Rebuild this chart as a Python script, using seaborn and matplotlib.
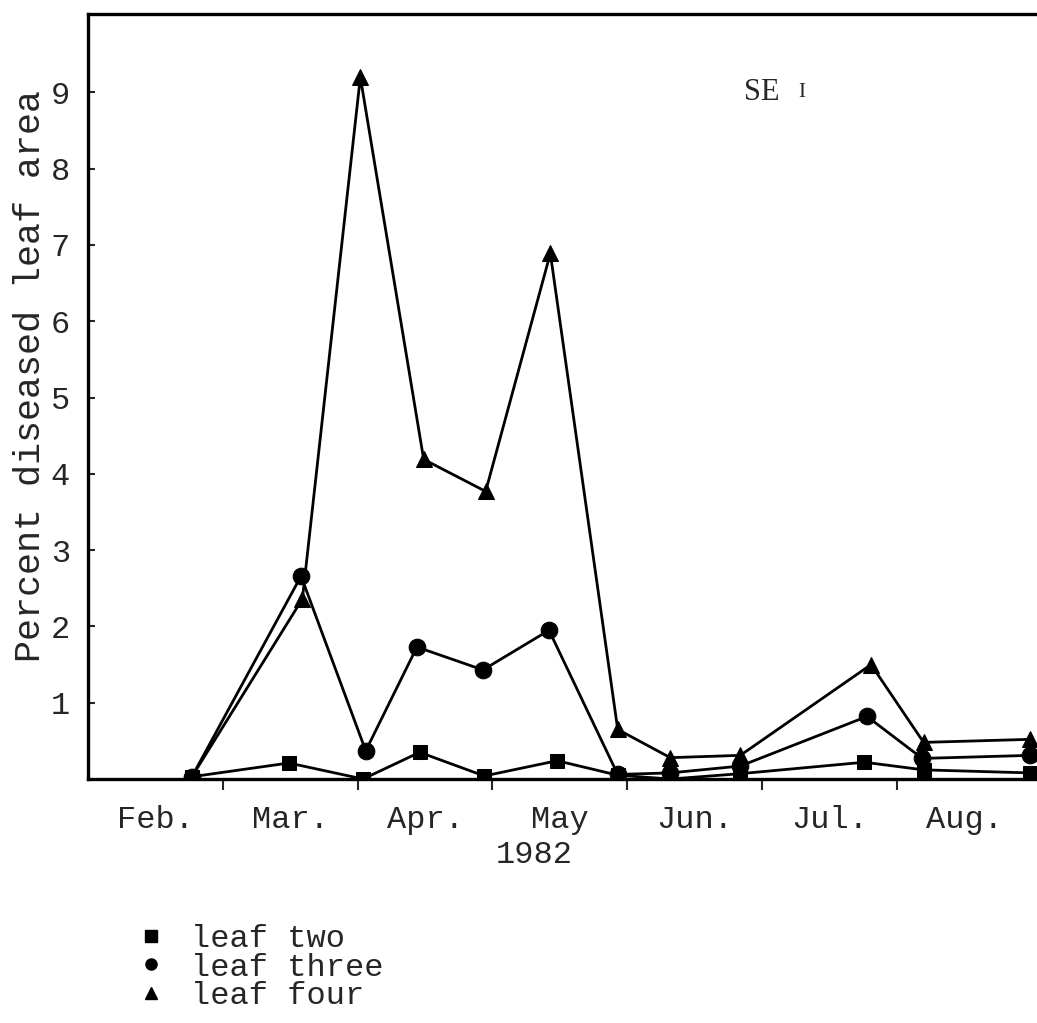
import numpy as np
import pandas as pd
import matplotlib
matplotlib.use('Agg')
import matplotlib.pyplot as plt
from matplotlib.lines import Line2D
import seaborn as sns

# x positions in months after 1 Feb 1982 (0 = Feb 1, 1 = Mar 1, ...)
x_leaf_two = [0.77, 1.49, 2.04, 2.46, 2.94, 3.48, 3.93, 4.32, 4.84, 5.76, 6.20, 6.99]
x_leaf_three = [0.77, 1.58, 2.06, 2.44, 2.93, 3.42, 3.93, 4.32, 4.84, 5.78, 6.19, 6.99]
x_leaf_four = [0.77, 1.59, 2.02, 2.49, 2.95, 3.43, 3.93, 4.32, 4.84, 5.81, 6.20, 6.99]

leaf_two = [0.03, 0.21, 0.0, 0.35, 0.04, 0.24, 0.05, 0.0, 0.07, 0.22, 0.12, 0.08]
leaf_three = [0.03, 2.66, 0.37, 1.73, 1.43, 1.95, 0.06, 0.08, 0.17, 0.82, 0.27, 0.31]
leaf_four = [0.03, 2.36, 9.2, 4.19, 3.77, 6.89, 0.65, 0.28, 0.31, 1.5, 0.48, 0.52]

series_names = ['leaf two', 'leaf three', 'leaf four']
month_labels = ['Feb.', 'Mar.', 'Apr.', 'May', 'Jun.', 'Jul.', 'Aug.']
y_ticks = [1, 2, 3, 4, 5, 6, 7, 8, 9]

frames = []
for name, xs, ys in zip(series_names, [x_leaf_two, x_leaf_three, x_leaf_four],
                        [leaf_two, leaf_three, leaf_four]):
    frames.append(pd.DataFrame({'month': xs, 'pct': ys, 'leaf': name}))
df = pd.concat(frames, ignore_index=True)

sns.set_style('white')
plt.rcParams['font.family'] = ['Liberation Mono', 'DejaVu Sans']

fig = plt.figure(figsize=(10.37, 10.23), dpi=100)
ax = fig.add_axes([0.085, 0.2385, 0.92, 0.748])

markers = {'leaf two': 's', 'leaf three': 'o', 'leaf four': '^'}
sizes = {'leaf two': 10, 'leaf three': 12, 'leaf four': 11}
for name in series_names:
    sns.lineplot(data=df[df['leaf'] == name], x='month', y='pct', ax=ax,
                 color='black', marker=markers[name], markersize=sizes[name],
                 markeredgecolor='black', linewidth=2.0, legend=False,
                 estimator=None, sort=False)

ax.set_xlim(0, 7.08)
ax.set_ylim(0, 10.03)

for side in ['left', 'top', 'bottom']:
    ax.spines[side].set_linewidth(2.4)
    ax.spines[side].set_color('black')
ax.spines['right'].set_visible(False)

ax.set_yticks(y_ticks)
ax.set_yticklabels([str(v) for v in y_ticks], fontsize=23)
ax.tick_params(axis='y', direction='in', length=5, width=1.5, pad=13, left=True)

ax.set_xticks([1, 2, 3, 4, 5, 6])
ax.set_xticklabels([])
ax.set_xticks(np.arange(len(month_labels)) + 0.5, minor=True)
ax.set_xticklabels(month_labels, minor=True, fontsize=23)
ax.tick_params(axis='x', which='major', direction='out', length=8, width=1.5, bottom=True)
ax.tick_params(axis='x', which='minor', length=0, pad=19)
ax.text(3.31, -0.08, '1982', transform=ax.get_xaxis_transform(),
        ha='center', va='top', fontsize=23)

ax.set_xlabel('')
ax.set_ylabel('Percent diseased leaf area', fontsize=26.5)
ax.yaxis.set_label_coords(-0.042, 0.527)

ax.text(4.87, 9.0, 'SE', family='Liberation Serif', fontsize=22, ha='left', va='center')
ax.text(5.27, 9.0, 'I', family='Liberation Serif', fontsize=15, ha='left', va='center')

handles = [Line2D([], [], linestyle='none', marker=markers[n], color='black',
                  markersize=8) for n in series_names]
fig.legend(handles, series_names, loc='upper left', bbox_to_anchor=(0.118, 0.109),
           frameon=False, fontsize=23, handletextpad=0.75, labelspacing=-0.05,
           handlelength=1.0, borderaxespad=0)

fig.savefig('out.png', dpi=100)
